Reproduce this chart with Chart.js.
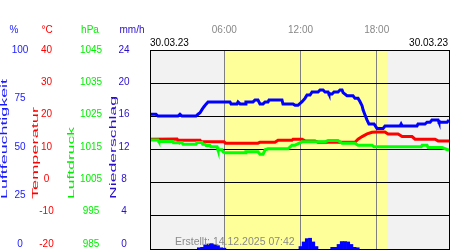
<!DOCTYPE html>
<html>
<head>
<meta charset="utf-8">
<script src="https://cdn.jsdelivr.net/npm/chart.js@4.4.1/dist/chart.umd.min.js"></script>
<style>
  html, body { margin: 0; padding: 0; background: #fff; }
  #wrap { width: 450px; height: 250px; }
</style>
</head>
<body>
<div id="wrap"><canvas id="chart" width="450" height="250"></canvas></div>
<script>
// time axis in hours of 30.03.23
const HOURS_MIN = 0.15, HOURS_MAX = 23.69;
const dayStart = 6.13, dayEnd = 18.81;
const timeTicks = [6, 12, 18];
const timeLabels = ['06:00', '12:00', '18:00'];
const dateLabel = '30.03.23';
const createdLabel = 'Erstellt: 14.12.2025 07:42';

// left axes tick labels
const humTicks = [0, 25, 50, 75, 100];
const tempTicks = [-20, -10, 0, 10, 20, 30, 40];
const pressTicks = [985, 995, 1005, 1015, 1025, 1035, 1045];
const rainTicks = [0, 4, 8, 12, 16, 20, 24];

// Luftfeuchtigkeit (%)
const humTimes = [0.15,0.62,0.78,2.35,2.51,2.67,3.77,3.93,4.09,4.24,4.40,4.56,4.72,6.45,6.53,7.00,7.08,7.24,7.63,7.70,
  8.26,8.42,8.65,8.81,9.05,9.21,9.44,9.52,10.54,10.62,11.41,11.57,11.80,12.12,12.35,12.51,12.75,12.91,13.38,13.54,
  13.77,13.93,14.17,14.24,14.48,14.64,14.95,15.11,15.27,15.35,15.66,16.13,16.29,16.53,16.69,16.85,16.93,17.08,17.24,17.39,
  17.79,18.02,18.50,18.65,18.89,19.05,19.84,19.92,20.00,21.17,21.25,21.80,21.96,22.20,22.35,22.83,22.90,23.54,23.69];
const humValues = [67.7,67.7,66.8,66.8,67.7,66.8,66.8,67.7,68.5,70,71.5,72.8,73.9,73.9,72.9,72.9,73.9,72.9,72.9,73.9,
  73.9,74.9,74.9,72.9,72.9,73.9,73.9,74.9,74.9,72.9,72.9,72.2,72.2,74,75.7,77.4,77.4,78.9,78.9,79.9,
  79.9,78.9,78.9,77.9,77.9,78.9,78.9,79.9,79.9,78.6,77.0,77.0,75.7,75.7,74.0,71.9,69.8,67.3,64.8,62.8,
  62.8,60.6,60.6,61.8,61.8,61.8,61.8,62.8,61.8,61.8,62.8,62.8,63.7,63.7,64.8,64.8,63.7,63.7,64.8];

// Temperatur (°C)
const tempTimes = [0.15,2.28,2.35,4.09,4.17,5.98,6.10,8.65,8.81,9.99,10.23,11.33,11.41,12.12,12.35,13.14,13.38,16.29,16.53,16.85,
  17.24,17.63,18.02,18.65,18.89,19.68,20.00,20.78,21.02,22.59,22.83,23.69];
const tempValues = [13.1,13.2,12.8,12.8,12.3,12.3,11.9,11.9,12.2,12.2,12.8,12.8,13.1,13.1,12.6,12.6,12.2,12.2,13.1,13.9,
  14.7,15.2,15.3,15.3,14.7,14.7,13.9,13.9,13.1,13.1,12.6,12.6];

// Luftdruck (hPa)
const pressTimes = [0.15,0.78,0.85,1.96,2.00,2.67,2.75,3.77,3.85,4.24,4.30,4.48,4.56,4.87,4.95,5.43,5.50,5.82,5.90,6.06,
  7.63,7.70,8.65,8.81,9.05,9.21,9.44,11.02,11.33,11.57,12.12,13.93,14.17,14.95,15.27,16.29,16.53,17.63,17.79,21.50,
  21.57,21.96,22.04,23.14,23.54,23.69];
const pressValues = [1017.9,1017.9,1017.4,1017.4,1017.0,1017.0,1016.6,1016.6,1017.1,1017.1,1016.6,1016.6,1016.2,1016.2,1015.8,1015.8,1014.9,1014.9,1014.3,1014.0,
  1014.0,1014.3,1014.3,1013.6,1013.6,1014.9,1015.2,1015.2,1016.3,1016.3,1017.3,1017.3,1017.7,1017.7,1016.9,1016.9,1016.3,1016.3,1015.8,1015.8,
  1016.3,1016.3,1015.6,1015.6,1015.0,1014.8];

// Niederschlag (mm/h)
const rainTimes = [4.0,4.25,4.5,4.75,5.0,5.25,5.5,5.75,6.0, 12.0,12.25,12.5,12.75,13.0,13.25, 14.5,14.75,15.0,15.25,15.5,15.75,16.0,16.25,16.5];
const rainValues = [0.15,0.2,0.5,0.6,0.65,0.55,0.4,0.15,0.1, 0.3,0.85,1.25,1.3,0.85,0.3, 0.2,0.2,0.55,0.9,0.9,0.85,0.55,0.2,0.15];

const FONT = '"Liberation Sans", Arial, sans-serif';
const C_HUM = '#1a1aff', C_TEMP = '#ff0000', C_PRESS = '#00ee00', C_RAIN = '#2a10cc';

const pts = (xs, ys) => xs.map((x, i) => ({ x, y: ys[i] }));

// axis columns on the left: tick values, scale id, x centre, colour
const tickColumns = [
  { ticks: humTicks, id: 'yH', x: 20, color: C_HUM },
  { ticks: tempTicks, id: 'yT', x: 46.5, color: C_TEMP },
  { ticks: pressTicks, id: 'yP', x: 91, color: C_PRESS },
  { ticks: rainTicks, id: 'yR', x: 124, color: C_RAIN }
];
const units = [['%', 14, C_HUM], ['°C', 47, C_TEMP], ['hPa', 90, C_PRESS], ['mm/h', 132, C_RAIN]];
const titles = [['Luftfeuchtigkeit', 5, 120, C_HUM], ['Temperatur', 36, 92, C_TEMP], ['Luftdruck', 72, 72, C_PRESS], ['Niederschlag', 113.5, 103, C_RAIN]];

const meteoPlugin = {
  id: 'meteo',
  beforeDraw(chart) {
    const { ctx, chartArea: a, scales } = chart;
    ctx.save();
    ctx.fillStyle = '#f2f2f2';
    ctx.fillRect(a.left, a.top, a.right - a.left, a.bottom - a.top);
    const x0 = scales.x.getPixelForValue(dayStart), x1 = scales.x.getPixelForValue(dayEnd);
    ctx.fillStyle = '#ffff99';
    ctx.fillRect(x0, a.top, x1 - x0, a.bottom - a.top);
    ctx.restore();
  },
  afterDraw(chart) {
    const { ctx, chartArea: a, scales } = chart;
    ctx.save();
    // frame
    ctx.strokeStyle = '#000';
    ctx.lineWidth = 1;
    ctx.strokeRect(a.left + 0.5, a.top + 0.5, a.right - a.left, a.bottom - a.top);

    ctx.font = '10px ' + FONT;
    ctx.textBaseline = 'middle';
    // left tick columns (labels squeezed a little so the bottom row stays visible)
    const h = a.bottom - a.top;
    tickColumns.forEach(col => {
      const s = scales[col.id];
      ctx.fillStyle = col.color;
      ctx.textAlign = 'center';
      col.ticks.forEach(v => {
        const y = a.top + (s.getPixelForValue(v) - a.top) * (h - 5) / h;
        ctx.fillText(String(v), col.x, y);
      });
    });
    units.forEach(([t, x, c]) => { ctx.fillStyle = c; ctx.textAlign = 'center'; ctx.fillText(t, x, 30); });

    // time labels on top
    ctx.fillStyle = '#888';
    ctx.textAlign = 'center';
    timeTicks.forEach((t, i) => ctx.fillText(timeLabels[i], scales.x.getPixelForValue(t), 30.5));

    // dates
    ctx.fillStyle = '#000';
    ctx.textAlign = 'left';
    ctx.fillText(dateLabel, a.left, 43);
    ctx.textAlign = 'right';
    ctx.fillText(dateLabel, a.right - 1, 43);

    // created stamp
    ctx.font = '10.5px ' + FONT;
    ctx.fillStyle = '#8a8a8a';
    ctx.textAlign = 'left';
    ctx.fillText(createdLabel, 175, 242);

    // rotated axis titles, stretched along the text
    ctx.font = '9px ' + FONT;
    titles.forEach(([t, x, len, c]) => {
      const w = ctx.measureText(t).width;
      ctx.save();
      ctx.translate(x, 199);
      ctx.rotate(-Math.PI / 2);
      ctx.scale(len / w, 1);
      ctx.fillStyle = c;
      ctx.textAlign = 'left';
      ctx.textBaseline = 'middle';
      ctx.fillText(t, 0, 0);
      ctx.restore();
    });
    ctx.restore();
  }
};

new Chart(document.getElementById('chart'), {
  type: 'line',
  data: {
    datasets: [
      { label: 'Luftfeuchtigkeit', data: pts(humTimes, humValues), yAxisID: 'yH', borderColor: '#0000ff', borderWidth: 3, order: 1 },
      { label: 'Luftdruck', data: pts(pressTimes, pressValues), yAxisID: 'yP', borderColor: '#00ff00', borderWidth: 3, order: 2 },
      { label: 'Temperatur', data: pts(tempTimes, tempValues), yAxisID: 'yT', borderColor: '#ff0000', borderWidth: 3, order: 3 },
      { type: 'bar', label: 'Niederschlag', data: pts(rainTimes, rainValues), yAxisID: 'yR', backgroundColor: '#0000ff',
        borderWidth: 0, barPercentage: 1, categoryPercentage: 1, grouped: false, order: 4 }
    ]
  },
  options: {
    responsive: false,
    devicePixelRatio: 1,
    animation: false,
    layout: { padding: { left: 150, top: 50, right: 1, bottom: 1 } },
    elements: { point: { radius: 0 }, line: { tension: 0, fill: false } },
    plugins: { legend: { display: false }, tooltip: { enabled: false } },
    scales: {
      x: {
        type: 'linear', min: HOURS_MIN, max: HOURS_MAX, position: 'top', offset: false,
        afterBuildTicks: s => { s.ticks = timeTicks.map(v => ({ value: v })); },
        ticks: { display: false },
        grid: { color: '#808080', drawTicks: false, offset: false },
        border: { display: false }
      },
      yT: {
        position: 'left', min: -20, max: 40,
        afterBuildTicks: s => { s.ticks = tempTicks.map(v => ({ value: v })); },
        ticks: { display: false },
        grid: { color: '#000', drawTicks: false, offset: false },
        border: { display: false }
      },
      yH: { display: false, min: 0, max: 100 },
      yP: { display: false, min: 985, max: 1045 },
      yR: { display: false, min: 0, max: 24 }
    }
  },
  plugins: [meteoPlugin]
});
</script>
</body>
</html>
